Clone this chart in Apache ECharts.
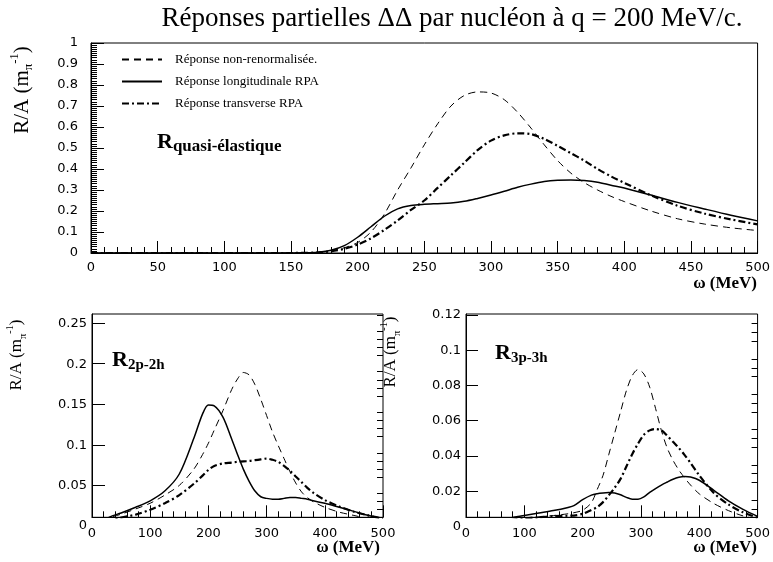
<!DOCTYPE html>
<html><head><meta charset="utf-8">
<script src="https://cdn.jsdelivr.net/npm/echarts@6/dist/echarts.min.js"></script>
<style>html,body{margin:0;padding:0;background:#fff}#c{width:773px;height:562px}</style>
</head><body><div id="c"></div><script>
// ---------- data ----------
const seriesNames = ['Réponse non-renormalisée.', 'Réponse longitudinale RPA', 'Réponse transverse RPA'];

// Quasi-elastic panel (top)
const qeX      = [0,150,160,170,180,190,200,210,220,230,240,250,260,270,280,290,300,310,320,330,340,350,360,370,380,390,400,420,440,460,480,500];
const qeNonRen = [0,0,0.001,0.003,0.010,0.025,0.050,0.100,0.185,0.300,0.405,0.515,0.615,0.700,0.750,0.767,0.762,0.730,0.670,0.595,0.515,0.440,0.380,0.335,0.300,0.270,0.245,0.200,0.163,0.138,0.120,0.107];
const qeLong   = [0,0,0.001,0.004,0.013,0.035,0.075,0.125,0.175,0.210,0.226,0.232,0.235,0.238,0.246,0.260,0.276,0.294,0.313,0.328,0.340,0.346,0.348,0.345,0.337,0.323,0.310,0.276,0.241,0.210,0.180,0.153];
const qeTrans  = [0,0,0.001,0.002,0.008,0.020,0.040,0.070,0.110,0.155,0.205,0.250,0.310,0.370,0.430,0.490,0.535,0.560,0.570,0.566,0.543,0.510,0.475,0.440,0.400,0.365,0.334,0.275,0.225,0.188,0.160,0.136];

// 2p-2h panel (bottom left)
const ppX      = [0,10,20,30,50,75,100,125,150,175,190,200,210,225,240,250,260,270,280,290,300,310,320,330,340,350,360,370,380,400,425,450,475,500];
const ppNonRen = [0,0,0.004,0.010,0.0145,0.021,0.028,0.038,0.050,0.070,0.088,0.102,0.118,0.142,0.168,0.181,0.189,0.186,0.174,0.156,0.136,0.116,0.099,0.083,0.067,0.053,0.042,0.035,0.030,0.023,0.017,0.013,0.009,0.006];
const ppLong   = [0,0,0.005,0.011,0.016,0.023,0.031,0.043,0.064,0.108,0.138,0.149,0.148,0.134,0.107,0.088,0.070,0.055,0.043,0.036,0.034,0.033,0.033,0.034,0.035,0.035,0.034,0.033,0.031,0.028,0.023,0.018,0.013,0.009];
const ppTrans  = [0,0,0.002,0.006,0.0105,0.014,0.020,0.028,0.038,0.052,0.062,0.069,0.074,0.077,0.078,0.079,0.0795,0.080,0.081,0.082,0.083,0.0815,0.079,0.074,0.068,0.061,0.054,0.047,0.041,0.032,0.024,0.0175,0.013,0.009];

// 3p-3h panel (bottom right)
const tpX      = [0,25,50,75,100,125,150,175,185,200,215,225,235,245,255,265,275,285,295,305,315,325,335,345,355,365,375,385,400,425,450,475,500];
const tpNonRen = [0,0.001,0.0025,0.0038,0.0048,0.0055,0.0062,0.0072,0.0078,0.0092,0.0135,0.021,0.029,0.041,0.053,0.065,0.077,0.0855,0.089,0.0865,0.079,0.067,0.0545,0.0445,0.0375,0.032,0.0275,0.0235,0.0185,0.013,0.009,0.006,0.004];
const tpLong   = [0,0.0012,0.0032,0.0048,0.0062,0.0076,0.009,0.0108,0.0118,0.0152,0.0178,0.0186,0.019,0.0192,0.019,0.018,0.0165,0.0155,0.0155,0.0168,0.0193,0.0215,0.0235,0.0252,0.0268,0.0279,0.0283,0.028,0.0262,0.0205,0.0145,0.0097,0.0057];
const tpTrans  = [0,0.0008,0.0022,0.0035,0.0045,0.0052,0.0058,0.0061,0.0062,0.0072,0.0094,0.011,0.0138,0.0178,0.022,0.027,0.034,0.041,0.047,0.052,0.0545,0.0553,0.0545,0.0515,0.048,0.0445,0.0405,0.036,0.029,0.019,0.0125,0.008,0.005];

// axis ranges / ticks
const ppYMin = 0.0107, ppYMax = 0.261;
const tpYMin = 0.0052, tpYMax = 0.1205;
const ppMajorTicks = [0.05,0.1,0.15,0.2,0.25];
const ppMinorTicks = [0.02,0.03,0.04,0.06,0.07,0.08,0.09,0.11,0.12,0.13,0.14,0.16,0.17,0.18,0.19,0.21,0.22,0.23,0.24,0.26];
const tpMajorTicks = [0.02,0.04,0.06,0.08,0.1,0.12];
const tpMinorTicks = [0.01,0.015,0.025,0.03,0.035,0.045,0.05,0.055,0.065,0.07,0.075,0.085,0.09,0.095,0.105,0.11,0.115];

// ---------- chart ----------
const pairs = (xs, ys) => xs.map((x, i) => [x, ys[i]]);
const BLACK = '#000';
const labelFont = {fontFamily: 'DejaVu Sans', fontSize: 13, color: BLACK};
const styles = [
  {color: BLACK, width: 1, type: [7, 5]},
  {color: BLACK, width: 1.5, type: 'solid'},
  {color: BLACK, width: 2.2, type: [7, 3, 2, 3]}
];

function xAxisFor(grid, interval, showLabels) {
  return {
    type: 'value', gridIndex: grid, min: 0, max: 500, interval: interval,
    show: showLabels !== null,
    axisLine: {show: true, lineStyle: {color: BLACK, width: 1}},
    axisTick: {show: true, inside: true, length: 12, lineStyle: {color: BLACK}},
    minorTick: {show: true, splitNumber: 5, length: 6, lineStyle: {color: BLACK}},
    splitLine: {show: false},
    axisLabel: Object.assign({show: !!showLabels, margin: 8}, labelFont)
  };
}

const grids = [
  {left: 91, top: 43, width: 667, height: 210, show: true, borderColor: BLACK, borderWidth: 1},
  {left: 92, top: 314, width: 291, height: 203.3, show: true, borderColor: BLACK, borderWidth: 1},
  {left: 92, top: 314, width: 291, height: 212},
  {left: 466, top: 314, width: 292, height: 203.3, show: true, borderColor: BLACK, borderWidth: 1},
  {left: 466, top: 314, width: 292, height: 212.5}
];

const xAxes = [
  xAxisFor(0, 50, true),
  xAxisFor(1, 100, true),
  xAxisFor(2, 100, null),
  xAxisFor(3, 100, true),
  xAxisFor(4, 100, null)
];
xAxes[1].axisLabel.margin = 10;
xAxes[3].axisLabel.margin = 10;

function tickAxis(grid, min, max, values, len, line) {
  return {
    type: 'value', gridIndex: grid, min: min, max: max,
    axisLine: {show: line, lineStyle: {color: BLACK}},
    axisTick: {show: true, inside: true, length: len, customValues: values, lineStyle: {color: BLACK}},
    axisLabel: {show: false}, splitLine: {show: false}
  };
}
function labelAxis(grid, max, interval) {
  return {
    type: 'value', gridIndex: grid, min: 0, max: max, interval: interval,
    axisLine: {show: false}, axisTick: {show: false}, splitLine: {show: false},
    axisLabel: Object.assign({show: true, margin: 5, showMaxLabel: false}, labelFont)
  };
}

const yAxes = [
  {
    type: 'value', gridIndex: 0, min: 0, max: 1, interval: 0.1,
    axisLine: {show: true, lineStyle: {color: BLACK}},
    axisTick: {show: true, inside: true, length: 13, lineStyle: {color: BLACK}},
    minorTick: {show: true, splitNumber: 10, length: 6, lineStyle: {color: BLACK}},
    splitLine: {show: false},
    axisLabel: Object.assign({margin: 13}, labelFont)
  },
  tickAxis(1, ppYMin, ppYMax, ppMajorTicks, 13, true),
  tickAxis(1, ppYMin, ppYMax, ppMinorTicks, 6, false),
  labelAxis(2, 0.2624, 0.05),
  tickAxis(3, tpYMin, tpYMax, tpMajorTicks, 12, true),
  tickAxis(3, tpYMin, tpYMax, tpMinorTicks, 6, false),
  labelAxis(4, tpYMax, 0.02)
];

function mk(name, xs, ys, k, xi, yi) {
  return {
    type: 'line', name: name, xAxisIndex: xi, yAxisIndex: yi,
    data: pairs(xs, ys), smooth: 0.3, symbol: 'none', showSymbol: false,
    itemStyle: {color: BLACK, opacity: 0},
    lineStyle: styles[k], clip: true, animation: false, z: 3
  };
}

const series = [
  mk(seriesNames[0], qeX, qeNonRen, 0, 0, 0),
  mk(seriesNames[1], qeX, qeLong, 1, 0, 0),
  mk(seriesNames[2], qeX, qeTrans, 2, 0, 0),
  mk(seriesNames[0], ppX, ppNonRen, 0, 1, 1),
  mk(seriesNames[1], ppX, ppLong, 1, 1, 1),
  mk(seriesNames[2], ppX, ppTrans, 2, 1, 1),
  mk(seriesNames[0], tpX, tpNonRen, 0, 3, 4),
  mk(seriesNames[1], tpX, tpLong, 1, 3, 4),
  mk(seriesNames[2], tpX, tpTrans, 2, 3, 4)
];

const serif = '"Liberation Serif", "Times New Roman", serif';
function yTitle(x, y, size) {
  return {
    type: 'text', x: x, y: y, rotation: Math.PI / 2,
    style: {
      text: '{a|R/A (m}{b|π}{c|-1}{a|)}',
      textAlign: 'center', textVerticalAlign: 'middle', fill: BLACK,
      rich: {
        a: {fontFamily: serif, fontSize: size, lineHeight: size + 6, fill: BLACK},
        b: {fontFamily: serif, fontSize: size * 0.62, lineHeight: size * 0.7, verticalAlign: 'bottom', fill: BLACK},
        c: {fontFamily: serif, fontSize: size * 0.6, lineHeight: size * 0.7, verticalAlign: 'top', fill: BLACK}
      }
    }
  };
}
function panelLabel(x, y, sub, size, subSize) {
  return {
    type: 'text', x: x, y: y,
    style: {
      text: '{r|R}{s|' + sub + '}',
      textAlign: 'left', textVerticalAlign: 'middle', fill: BLACK,
      rich: {
        r: {fontFamily: serif, fontWeight: 'bold', fontSize: size, lineHeight: size + 4, fill: BLACK},
        s: {fontFamily: serif, fontWeight: 'bold', fontSize: subSize, lineHeight: subSize * 0.9, verticalAlign: 'bottom', fill: BLACK}
      }
    }
  };
}
function xTitle(x, y) {
  return {
    type: 'text', x: x, y: y,
    style: {text: 'ω (MeV)', textAlign: 'right', textVerticalAlign: 'middle', fill: BLACK,
            font: 'bold 17px ' + serif}
  };
}

const option = {
  backgroundColor: '#fff',
  animation: false,
  grid: grids,
  xAxis: xAxes,
  yAxis: yAxes,
  legend: {
    data: seriesNames, orient: 'vertical', left: 116, top: 48,
    itemWidth: 40, itemHeight: 12, itemGap: 9,
    itemStyle: {opacity: 0},
    textStyle: {fontFamily: serif, fontSize: 13, color: BLACK, padding: [0, 0, 0, 8]},
    selectedMode: false
  },
  series: series,
  graphic: [
    {type: 'text', x: 452, y: 19,
     style: {text: 'Réponses partielles ΔΔ par nucléon à q = 200 MeV/c.', textAlign: 'center',
             textVerticalAlign: 'middle', fill: BLACK, font: '27px ' + serif}},
    yTitle(22, 90, 21),
    yTitle(17, 355, 17),
    yTitle(391, 352, 17),
    panelLabel(157, 142, 'quasi-élastique', 22, 17),
    panelLabel(112, 360, '2p-2h', 22, 15),
    panelLabel(495, 353, '3p-3h', 22, 15),
    xTitle(757, 284),
    xTitle(380, 548),
    xTitle(757, 548)
  ]
};

const chart = echarts.init(document.getElementById('c'), null, {renderer: 'canvas'});
chart.setOption(option);
</script></body></html>
